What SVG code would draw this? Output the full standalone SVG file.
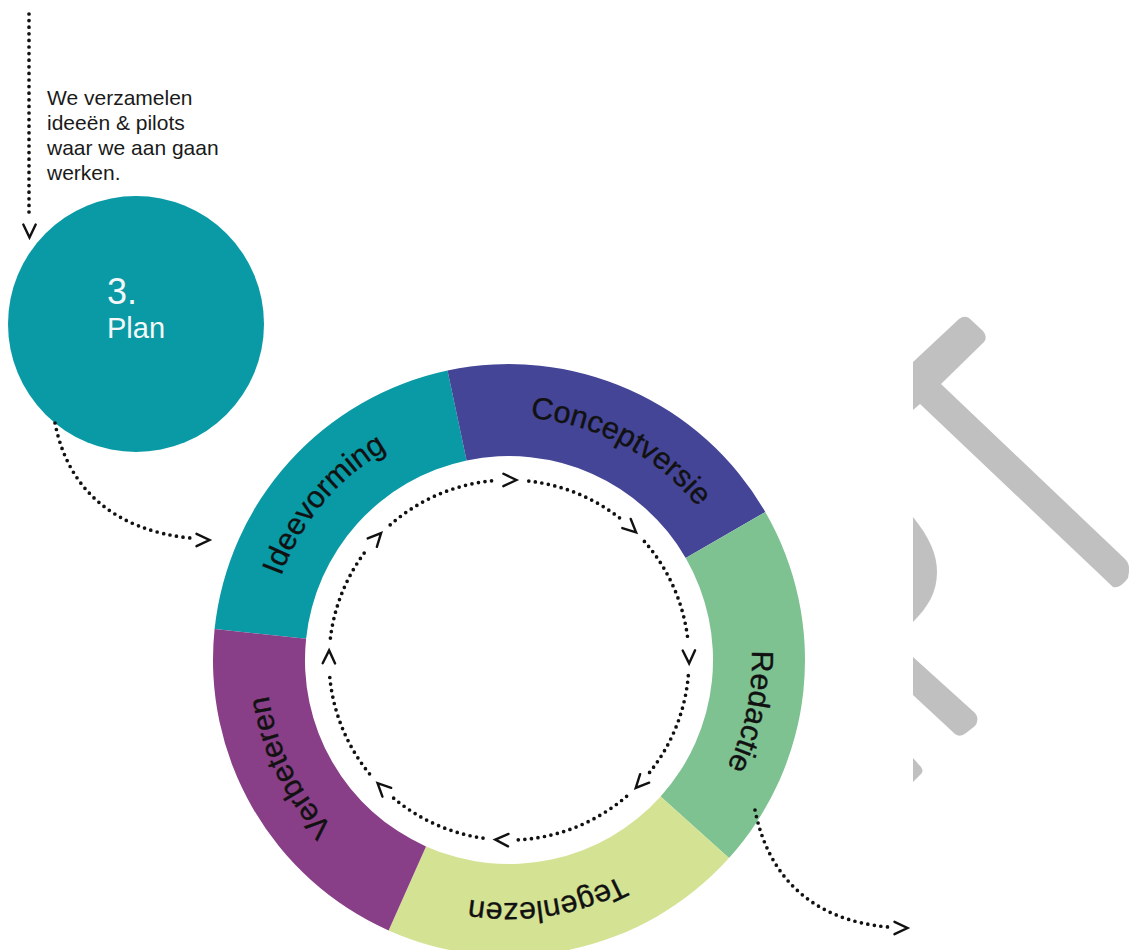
<svg xmlns="http://www.w3.org/2000/svg" width="1129" height="950" viewBox="0 0 1129 950">
<defs>
<style>
.dots{fill:none;stroke:#111;stroke-width:3.7;stroke-linecap:round;stroke-dasharray:0 6.6}
.chev{fill:none;stroke:#111;stroke-width:2.4;stroke-linecap:round;stroke-linejoin:miter}
.lbl{font-family:"Liberation Sans",Arial,sans-serif;font-size:30.5px;fill:#111;stroke:#111;stroke-width:0.35}
.note{font-family:"Liberation Sans",Arial,sans-serif;font-size:21px;fill:#1a1a1a}
.plan{font-family:"Liberation Sans",Arial,sans-serif;fill:#f2f8f8}
.logo{fill:#c0c0c0}
</style>
<path id="chv" d="M-6.5,-6.2 L6.5,0 L-6.5,6.2"/>
<path id="pIdee" d="M269.7,702.2 A243,243 0 0 1 509,417"/>
<path id="pConc" d="M418,434.7 A243,243 0 0 1 746.7,609.5"/>
<path id="pReda" d="M700.5,510.4 A243,243 0 0 1 623.1,874.5"/>
<path id="pTege" d="M717.3,785.2 A243,243 0 0 1 349.6,843.4"/>
<path id="pVerb" d="M450.2,895.8 A243,243 0 0 1 287,561.2"/>
</defs>
<rect width="1129" height="950" fill="#ffffff"/>

<g id="logo">
<path class="logo" d="M913,362 L959,319 Q964,315 969,318 L983,331 Q988,337 984,342 L941,384 L1124,558 Q1130,563 1129,572 L1128,578 Q1120,589 1113,587 L920,404 L913,410 Z"/>
<path class="logo" d="M913,517 C930,538 937,555 937,572 C937,592 928,607 913,622 Z"/>
<path class="logo" d="M913,657 L975,713 Q980,719 975,726 L966,733 Q960,738 955,734 L913,695 Z"/>
<path class="logo" d="M913,758 L921,767 Q924,771 921,774 L913,782 Z"/>
</g>

<g id="note">
<text class="note" x="47" y="105">We verzamelen</text>
<text class="note" x="47" y="130">ideeën &amp; pilots</text>
<text class="note" x="47" y="155">waar we aan gaan</text>
<text class="note" x="47" y="180">werken.</text>
</g>

<g id="plan">
<circle cx="136" cy="324" r="128" fill="#0a9aa5"/>
<text class="plan" x="107" y="304" font-size="36">3.</text>
<text class="plan" x="107" y="338" font-size="29">Plan</text>
</g>

<g id="ideevorming">
<path d="M214.6,629.1 A296,296 0 0 1 447.5,370.5 L466.6,460.5 A204,204 0 0 0 306.1,638.7 Z" fill="#0a9aa5"/>
<text class="lbl"><textPath href="#pIdee" startOffset="50%" text-anchor="middle">Ideevorming</textPath></text>
</g>
<g id="conceptversie">
<path d="M447.5,370.5 A296,296 0 0 1 765.3,512 L685.7,558 A204,204 0 0 0 466.6,460.5 Z" fill="#444597"/>
<text class="lbl"><textPath href="#pConc" startOffset="50%" text-anchor="middle">Conceptversie</textPath></text>
</g>
<g id="redactie">
<path d="M765.3,512 A296,296 0 0 1 729,858.1 L660.6,796.5 A204,204 0 0 0 685.7,558 Z" fill="#7fc292"/>
<text class="lbl"><textPath href="#pReda" startOffset="50%" text-anchor="middle">Redactie</textPath></text>
</g>
<g id="tegenlezen">
<path d="M729,858.1 A296,296 0 0 1 388.6,930.4 L426,846.4 A204,204 0 0 0 660.6,796.5 Z" fill="#d4e294"/>
<text class="lbl"><textPath href="#pTege" startOffset="50%" text-anchor="middle">Tegenlezen</textPath></text>
</g>
<g id="verbeteren">
<path d="M388.6,930.4 A296,296 0 0 1 214.6,629.1 L306.1,638.7 A204,204 0 0 0 426,846.4 Z" fill="#883f87"/>
<text class="lbl"><textPath href="#pVerb" startOffset="50%" text-anchor="middle">Verbeteren</textPath></text>
</g>

<g id="connectors">
<path class="dots" d="M29,14 L29,218"/>
<use href="#chv" class="chev" transform="translate(29.5,231) rotate(90)"/>
<path class="dots" d="M55,423 C68,490 115,530 190,538"/>
<use href="#chv" class="chev" transform="translate(203,540)"/>
<path class="dots" d="M755,810 C768,875 810,920 888,927"/>
<use href="#chv" class="chev" transform="translate(901,928)"/>

<path class="dots" d="M528.8,481.1 A180,180 0 0 1 620.6,518.7"/>
<path class="dots" d="M644.4,541.4 A180,180 0 0 1 688.2,642.8"/>
<path class="dots" d="M688.3,675.7 A180,180 0 0 1 649.5,772.5"/>
<path class="dots" d="M626.6,796.3 A180,180 0 0 1 515.9,839.9"/>
<path class="dots" d="M483,838.1 A180,180 0 0 1 392.6,797.3"/>
<path class="dots" d="M369.5,773.8 A180,180 0 0 1 329.3,671"/>
<path class="dots" d="M330.4,638.1 A180,180 0 0 1 367.5,548.7"/>
<path class="dots" d="M390.2,524.8 A180,180 0 0 1 495.5,480.5"/>
<use href="#chv" class="chev" transform="translate(509.9,480) rotate(0.3)"/>
<use href="#chv" class="chev" transform="translate(631.3,527.9) rotate(42.8)"/>
<use href="#chv" class="chev" transform="translate(689,656.9) rotate(89)"/>
<use href="#chv" class="chev" transform="translate(640.2,783.2) rotate(133.2)"/>
<use href="#chv" class="chev" transform="translate(501.8,839.9) rotate(182.3)"/>
<use href="#chv" class="chev" transform="translate(382.2,787.7) rotate(224.8)"/>
<use href="#chv" class="chev" transform="translate(329,656.9) rotate(271)"/>
<use href="#chv" class="chev" transform="translate(376.7,537.9) rotate(-47.3)"/>
</g>
</svg>
